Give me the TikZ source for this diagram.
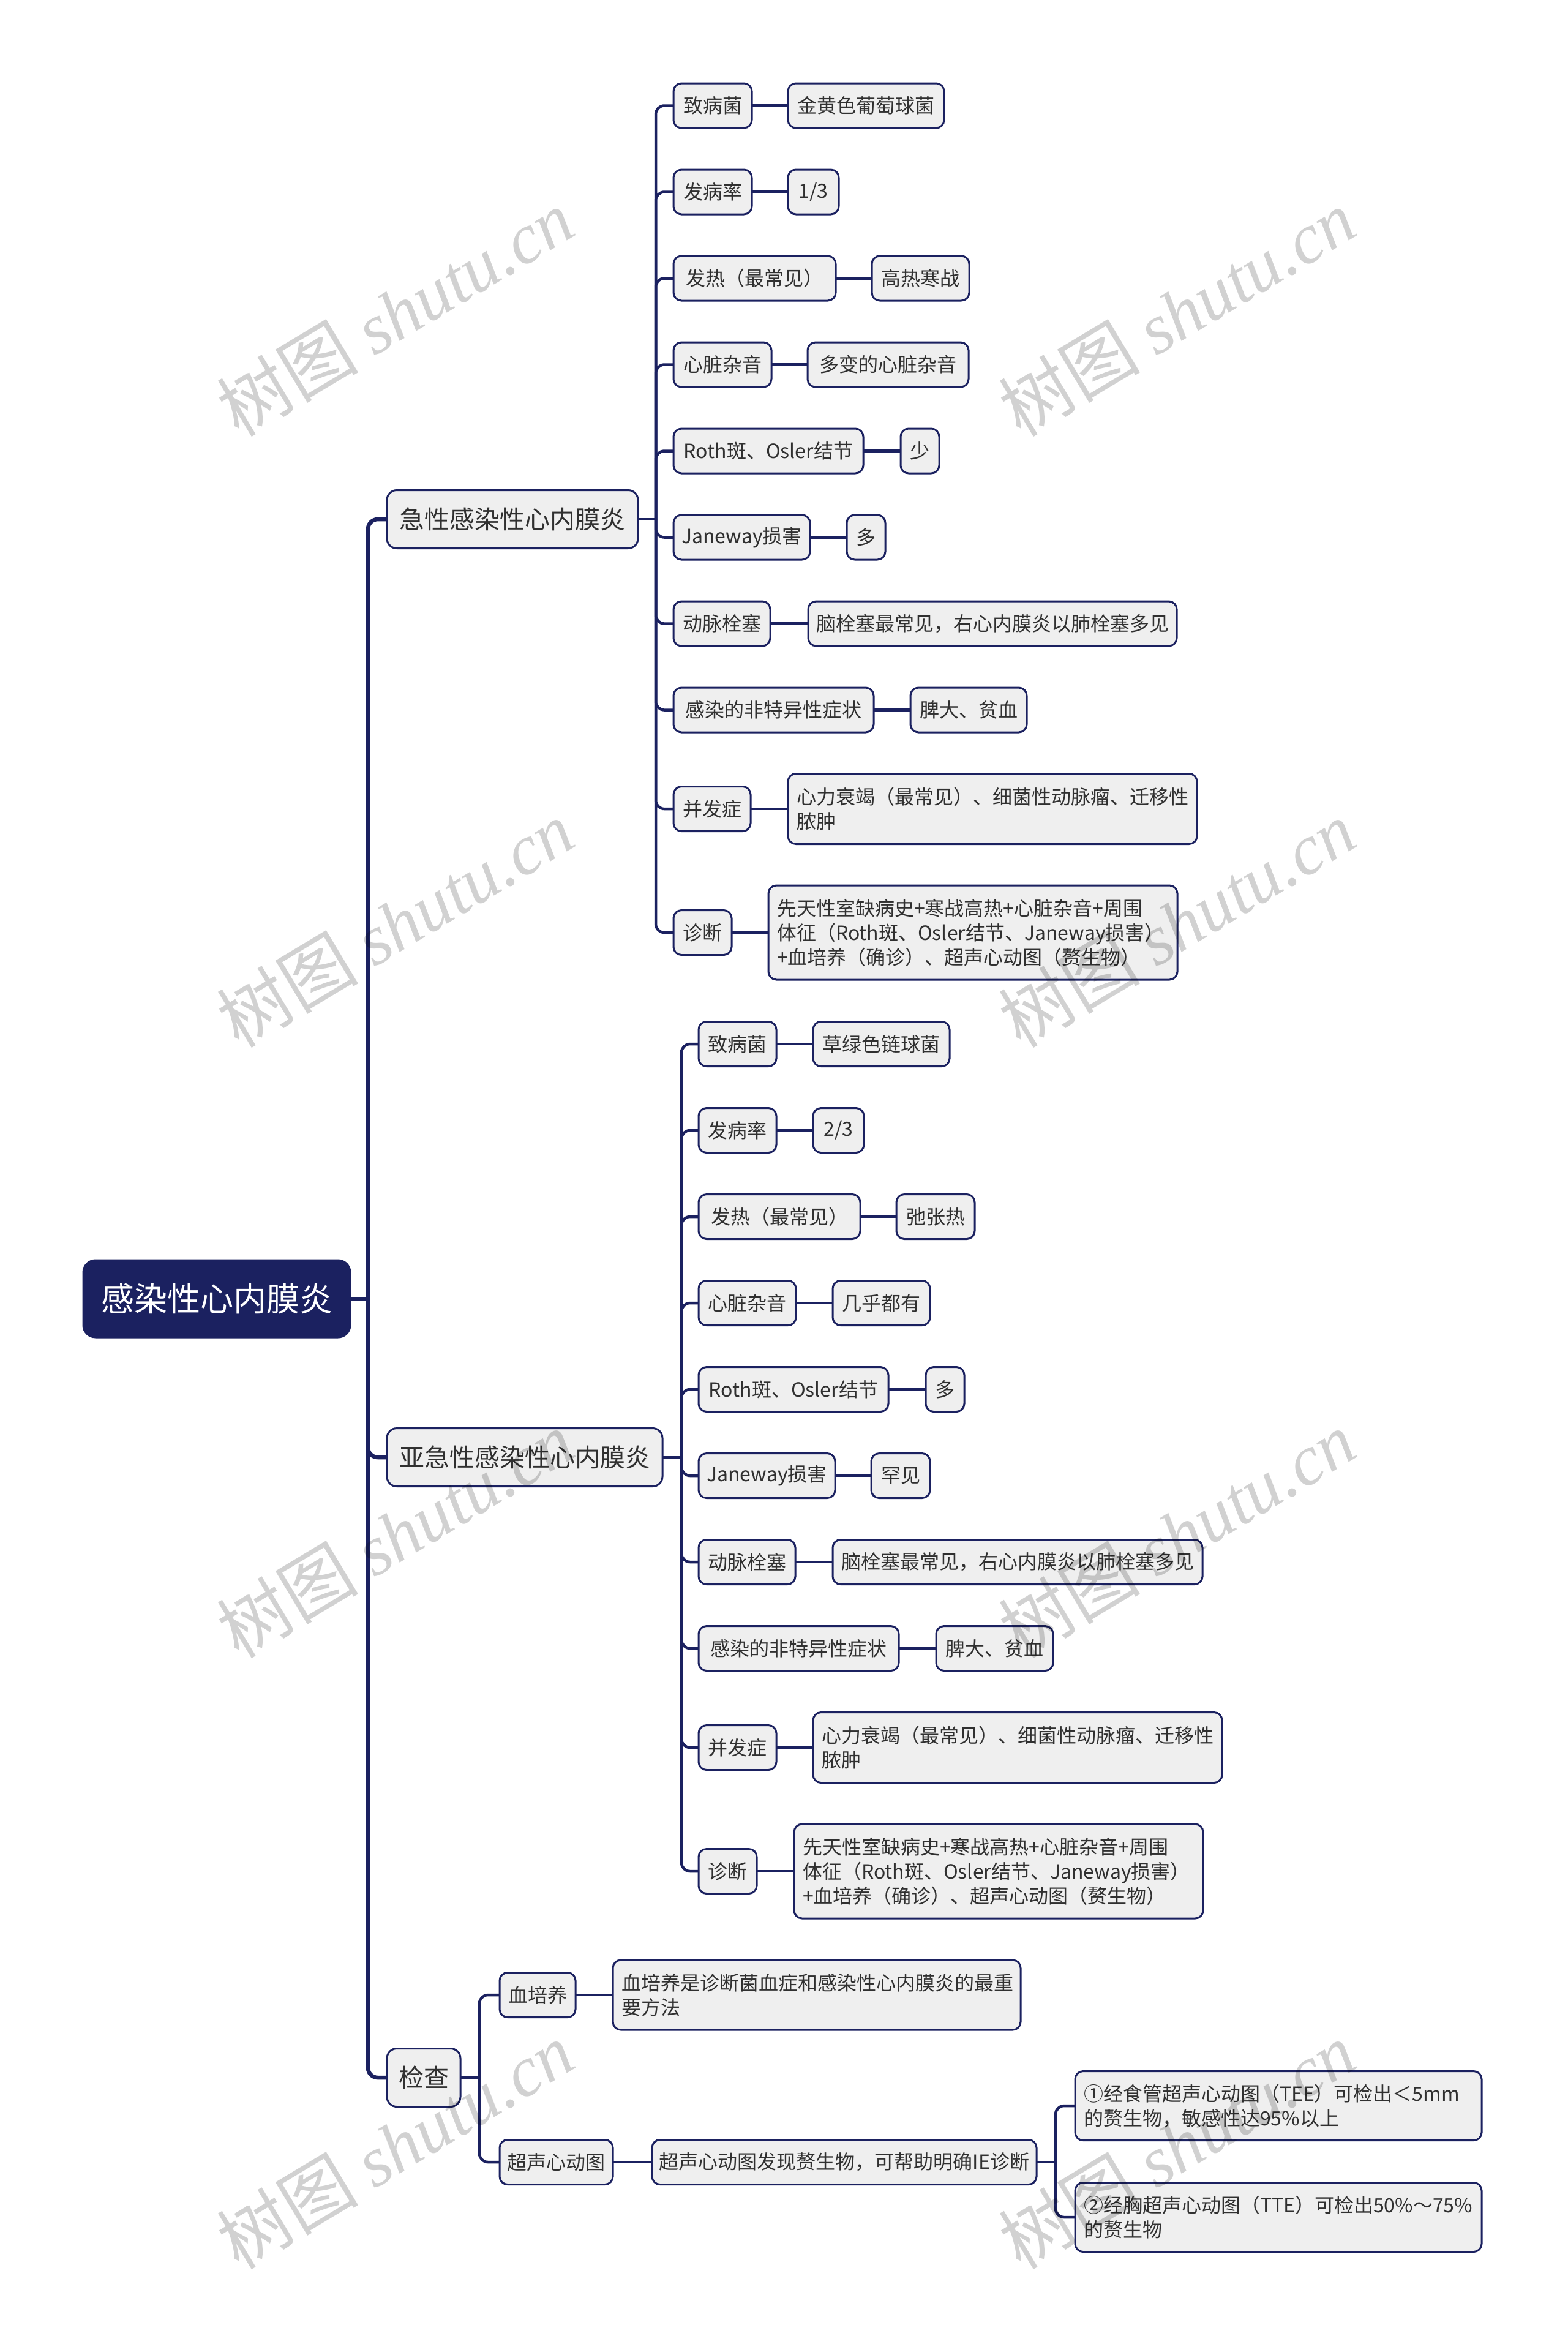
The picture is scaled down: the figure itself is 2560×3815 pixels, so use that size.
\documentclass[tikz,border=0pt]{standalone}
\usepackage{fontspec}
\setmainfont{Noto Sans CJK SC}
\newfontfamily\wmlat{Liberation Serif}
\usetikzlibrary{calc}
\definecolor{navy}{HTML}{1B2160}
\definecolor{boxfill}{HTML}{EFEFEF}
\definecolor{txt}{HTML}{303030}
\pgfdeclarelayer{bg}\pgfdeclarelayer{edges}\pgfdeclarelayer{wmk}
\pgfsetlayers{bg,edges,main,wmk}
\tikzset{
  box/.style={draw=navy, line width=3pt, fill=boxfill, rounded corners=13pt, text=txt,
    font=\fontsize{32}{40}\selectfont, inner xsep=6pt, inner ysep=0pt,
    minimum height=73pt, anchor=west, outer sep=0pt},
  bw/.style={minimum width=#1pt},
  mbox/.style={box, align=left, inner xsep=14pt, text width=#1pt},
  lone/.style={box, font=\fontsize{41}{48}\selectfont, minimum height=95pt, rounded corners=16pt},
  rootbox/.style={box, fill=navy, draw=navy, text=white, font=\fontsize{54}{60}\selectfont,
    minimum height=126pt, rounded corners=20pt},
  link/.style={draw=navy, line width=4.5pt, rounded corners=14pt},
  link0/.style={draw=navy, line width=6.5pt, rounded corners=16pt},
  wm/.style={rotate=31, text=black, opacity=0.18, font=\fontsize{116}{116}\selectfont, inner sep=0pt}
}
\begin{document}
\begin{tikzpicture}[x=1pt,y=-1pt]
\begin{pgfonlayer}{bg}
\fill[white] (0,0) rectangle (2560,3815);
\end{pgfonlayer}
\useasboundingbox (0,0) rectangle (2560,3815);

% root and level 1
\node[rootbox,bw=436] (root) at (136,2121) {感染性心内膜炎};
\node[lone,bw=410] (acute) at (632,848) {急性感染性心内膜炎};
\node[lone,bw=450] (sub) at (632,2380) {亚急性感染性心内膜炎};
\node[lone,bw=120] (exam) at (632,3393) {检查};

% acute children
\node[box,bw=128] (a1) at (1100,172.5) {致病菌};
\node[box,bw=255] (ag1) at (1287,172.5) {金黄色葡萄球菌};
\node[box,bw=128] (a2) at (1100,313.5) {发病率};
\node[box,bw=83] (ag2) at (1287,313.5) {1/3};
\node[box,bw=265] (a3) at (1100,454.5) {发热（最常见）};
\node[box,bw=159] (ag3) at (1424,454.5) {高热寒战};
\node[box,bw=160] (a4) at (1100,595.5) {心脏杂音};
\node[box,bw=263] (ag4) at (1319,595.5) {多变的心脏杂音};
\node[box,bw=310] (a5) at (1100,736.5) {Roth斑、Osler结节};
\node[box,bw=63] (ag5) at (1471,736.5) {少};
\node[box,bw=223] (a6) at (1100,877.5) {Janeway损害};
\node[box,bw=63] (ag6) at (1383,877.5) {多};
\node[box,bw=158] (a7) at (1100,1018.5) {动脉栓塞};
\node[box,bw=602] (ag7) at (1320,1018.5) {脑栓塞最常见，右心内膜炎以肺栓塞多见};
\node[box,bw=327] (a8) at (1100,1159.5) {感染的非特异性症状};
\node[box,bw=190] (ag8) at (1487,1159.5) {脾大、贫血};
\node[box,bw=126] (a9) at (1100,1321) {并发症};
\node[mbox=640,minimum height=115pt] (ag9) at (1287,1321) {心力衰竭（最常见）、细菌性动脉瘤、迁移性\\脓肿};
\node[box,bw=95] (a10) at (1100,1523) {诊断};
\node[mbox=640,minimum height=154pt] (ag10) at (1255,1523) {先天性室缺病史+寒战高热+心脏杂音+周围\\体征（Roth斑、Osler结节、Janeway损害）\\+血培养（确诊）、超声心动图（赘生物）};

% subacute children
\node[box,bw=127] (s1) at (1141,1705) {致病菌};
\node[box,bw=223] (sg1) at (1328,1705) {草绿色链球菌};
\node[box,bw=127] (s2) at (1141,1846) {发病率};
\node[box,bw=83] (sg2) at (1328,1846) {2/3};
\node[box,bw=264] (s3) at (1141,1987) {发热（最常见）};
\node[box,bw=128] (sg3) at (1464,1987) {弛张热};
\node[box,bw=159] (s4) at (1141,2128) {心脏杂音};
\node[box,bw=159] (sg4) at (1360,2128) {几乎都有};
\node[box,bw=310] (s5) at (1141,2269) {Roth斑、Osler结节};
\node[box,bw=63] (sg5) at (1512,2269) {多};
\node[box,bw=223] (s6) at (1141,2410) {Janeway损害};
\node[box,bw=96] (sg6) at (1423,2410) {罕见};
\node[box,bw=158] (s7) at (1141,2551) {动脉栓塞};
\node[box,bw=604] (sg7) at (1360,2551) {脑栓塞最常见，右心内膜炎以肺栓塞多见};
\node[box,bw=327] (s8) at (1141,2692) {感染的非特异性症状};
\node[box,bw=191] (sg8) at (1529,2692) {脾大、贫血};
\node[box,bw=127] (s9) at (1141,2854) {并发症};
\node[mbox=640,minimum height=115pt] (sg9) at (1328,2854) {心力衰竭（最常见）、细菌性动脉瘤、迁移性\\脓肿};
\node[box,bw=95] (s10) at (1141,3056) {诊断};
\node[mbox=640,minimum height=154pt] (sg10) at (1297,3056) {先天性室缺病史+寒战高热+心脏杂音+周围\\体征（Roth斑、Osler结节、Janeway损害）\\+血培养（确诊）、超声心动图（赘生物）};

% exam children
\node[box,bw=124] (e1) at (816,3258) {血培养};
\node[mbox=638,minimum height=114pt] (eg1) at (1001,3258) {血培养是诊断菌血症和感染性心内膜炎的最重\\要方法};
\node[box,bw=185] (e2) at (816,3531) {超声心动图};
\node[box,bw=628] (eg2) at (1065,3531) {超声心动图发现赘生物，可帮助明确IE诊断};
\node[mbox=636,minimum height=113pt] (t1) at (1756,3439) {①经食管超声心动图（TEE）可检出＜5mm\\的赘生物，敏感性达95\%以上};
\node[mbox=636,minimum height=113pt] (t2) at (1756,3621) {②经胸超声心动图（TTE）可检出50\%～75\%\\的赘生物};

% junctions
\coordinate (mj) at (601,2121);
\coordinate (aj) at (1071,848);
\coordinate (sj) at (1113,2380);
\coordinate (ej) at (783,3393);
\coordinate (uj) at (1724,3531);

\begin{pgfonlayer}{edges}
\draw[link0] (root.east) -- (mj);
\draw[link0] (mj) |- (acute.west);
\draw[link0] (mj) |- (sub.west);
\draw[link0] (mj) |- (exam.west);
\draw[link] (acute.east) -- (aj);
\draw[link] (sub.east) -- (sj);
\draw[link] (exam.east) -- (ej);
\foreach \i in {1,...,10}{
  \draw[link] (aj) |- (a\i.west);
  \draw[link] (a\i.east) -- (ag\i.west);
  \draw[link] (sj) |- (s\i.west);
  \draw[link] (s\i.east) -- (sg\i.west);
}
\draw[link] (ej) |- (e1.west);
\draw[link] (ej) |- (e2.west);
\draw[link] (e1.east) -- (eg1.west);
\draw[link] (e2.east) -- (eg2.west);
\draw[link] (eg2.east) -- (uj);
\draw[link] (uj) |- (t1.west);
\draw[link] (uj) |- (t2.west);
\end{pgfonlayer}

% watermarks
\begin{pgfonlayer}{wmk}
\foreach \wx in {645,1922}{
  \foreach \wy in {511,1509,2506,3504}{
    \node[wm] at (\wx,\wy) {树图 {\wmlat\itshape shutu.cn}};
  }
}
\end{pgfonlayer}
\end{tikzpicture}
\end{document}
